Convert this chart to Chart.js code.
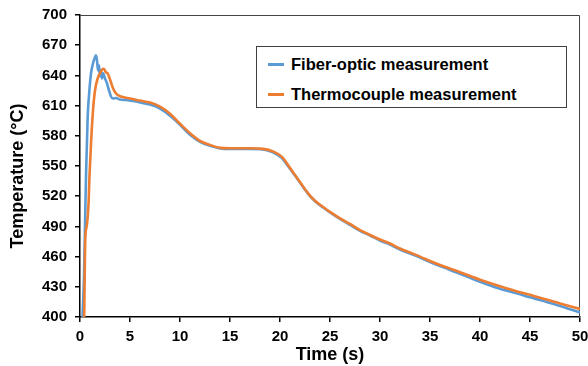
<!DOCTYPE html>
<html><head><meta charset="utf-8">
<script src="https://cdn.jsdelivr.net/npm/chart.js@4/dist/chart.umd.min.js"></script>
<style>
html,body{margin:0;padding:0;background:#fff;}
#wrap{position:relative;width:588px;height:366px;}
#legend{position:absolute;left:256px;top:46px;width:311px;height:62px;border:1px solid #404040;background:#fff;font:bold 16.5px "Liberation Sans",Arial,sans-serif;color:#000;box-sizing:border-box;}
.row{position:absolute;left:11px;height:20px;display:flex;align-items:center;white-space:nowrap;}
.sw{width:16px;height:3px;margin-right:7px;}
</style></head>
<body>
<div id="wrap">
<canvas id="c" width="588" height="366"></canvas>
<div id="legend"></div>
</div>
<script>
const seriesNames = ["Fiber-optic measurement", "Thermocouple measurement"];
const seriesColors = ["#5B9BD5", "#ED7D31"];

const timeFiber = [0.25,0.33,0.4,0.53,0.6,0.77,0.9,1.1,1.3,1.5,1.6,1.7,1.8,1.9,2.0,2.1,2.2,2.3,2.5,2.7,2.9,3.1,3.3,3.6,4.0,4.6,5.6,6.5,7.0,8.0,9.0,10.0,11.0,12.0,13.0,14.0,15.0,17.0,18.3,19.3,20.2,20.8,21.5,22,22.5,23,23.5,24,25,26,27,28,29,30,31,32,33,34,35,36,38,40,42,44,45,46,48,50];
const tempFiber = [400,420,440,506,540,600,620,642,652,658,660,655,645,650,639,645,637,642,637,632,625,619,617,617.5,616,615.5,614,612,611,607,600,591,581,574,570,567.5,567,567,566.5,563.5,558,550,540.5,533.5,526.5,520,515,511,504,497.5,491.5,485.5,481,476,472,467,463,459,454.5,450.5,443,435,428,422.5,419.5,417,411,404.5];

const timeThermo = [0.42,0.47,0.53,0.67,0.85,0.95,1.1,1.3,1.5,1.77,2.1,2.3,2.43,2.6,2.77,2.93,3.1,3.27,3.6,4.1,5.0,6.0,7.0,8.0,9.0,10.0,11.0,12.0,13.0,14.0,15.0,17.0,18.3,19.3,20.2,20.8,21.5,22,22.5,23,23.5,24,25,26,27,28,29,30,31,32,33,34,35,36,38,40,42,44,45,46,48,50];
const tempThermo = [400,440,478,490,512,540,572,605,625,637,644,646.5,646,643,642,638,633,628,622,619,617,615,613,609,602,592,582.5,575,571,568,567.6,567.6,567,564.5,559,551,541,534,527,520.5,515.5,511.5,504.5,498,492.4,486.4,481.5,477,473,468,464,460,455.6,451.7,444.5,437,430.5,424.5,422,419,413.5,408];

const xTickValues = [0,5,10,15,20,25,30,35,40,45,50];
const yTickValues = [400,430,460,490,520,550,580,610,640,670,700];

const toPts = (xs, ys) => xs.map((x, i) => ({x: x, y: ys[i]}));

// HTML legend
const lg = document.getElementById('legend');
seriesNames.forEach((n, i) => {
  const r = document.createElement('div');
  r.className = 'row';
  r.style.top = (7 + i * 30) + 'px';
  const sw = document.createElement('span');
  sw.className = 'sw';
  sw.style.background = seriesColors[i];
  const t = document.createElement('span');
  t.textContent = n;
  r.appendChild(sw); r.appendChild(t);
  lg.appendChild(r);
});

const framePlugin = {
  id: 'frame',
  beforeDatasetsDraw(chart) {
    const {ctx, chartArea: a} = chart;
    ctx.save();
    ctx.strokeStyle = '#444';
    ctx.lineWidth = 1;
    ctx.beginPath();
    ctx.moveTo(a.left, a.top + 0.5);
    ctx.lineTo(a.right - 0.5, a.top + 0.5);
    ctx.lineTo(a.right - 0.5, a.bottom);
    ctx.stroke();
    ctx.restore();
  }
};

const fontFam = '"Liberation Sans", Arial, sans-serif';

new Chart(document.getElementById('c'), {
  type: 'line',
  data: {
    datasets: [
      {label: seriesNames[0], data: toPts(timeFiber, tempFiber), borderColor: seriesColors[0], borderWidth: 2.6, pointRadius: 0, cubicInterpolationMode: 'monotone', order: 1},
      {label: seriesNames[1], data: toPts(timeThermo, tempThermo), borderColor: seriesColors[1], borderWidth: 2.6, pointRadius: 0, cubicInterpolationMode: 'monotone', order: 0}
    ]
  },
  options: {
    responsive: false,
    animation: false,
    devicePixelRatio: 1,
    layout: {padding: {top: 15, right: 8, left: 0, bottom: 0}},
    plugins: {legend: {display: false}, tooltip: {enabled: false}},
    scales: {
      x: {
        type: 'linear', min: 0, max: 50, position: 'bottom',
        afterBuildTicks: s => { s.ticks = xTickValues.map(v => ({value: v})); },
        border: {color: '#000', width: 1.5},
        grid: {drawOnChartArea: false, color: '#000', tickLength: 5, lineWidth: 1.5},
        ticks: {font: {family: fontFam, size: 15, weight: 'bold'}, color: '#000', padding: 6, maxRotation: 0},
        title: {display: true, text: 'Time (s)', font: {family: fontFam, size: 18, weight: 'bold'}, color: '#000', padding: {top: 0, bottom: 0}},
        afterFit: s => { s.height = 49; s.paddingRight = 0; s.paddingLeft = 0; }
      },
      y: {
        type: 'linear', min: 400, max: 700,
        afterBuildTicks: s => { s.ticks = yTickValues.map(v => ({value: v})); },
        border: {color: '#000', width: 1.5},
        grid: {drawOnChartArea: false, color: '#000', tickLength: 5, lineWidth: 1.5},
        ticks: {font: {family: fontFam, size: 15, weight: 'bold'}, color: '#000', padding: 8},
        title: {display: true, text: 'Temperature (°C)\u00a0\u00a0\u00a0\u00a0', font: {family: fontFam, size: 18, weight: 'bold'}, color: '#000', padding: {top: 7, bottom: 0}},
        afterFit: s => { s.width = 80; s.paddingTop = 0; s.paddingBottom = 0; }
      }
    }
  },
  plugins: [framePlugin]
});
</script>
</body></html>
